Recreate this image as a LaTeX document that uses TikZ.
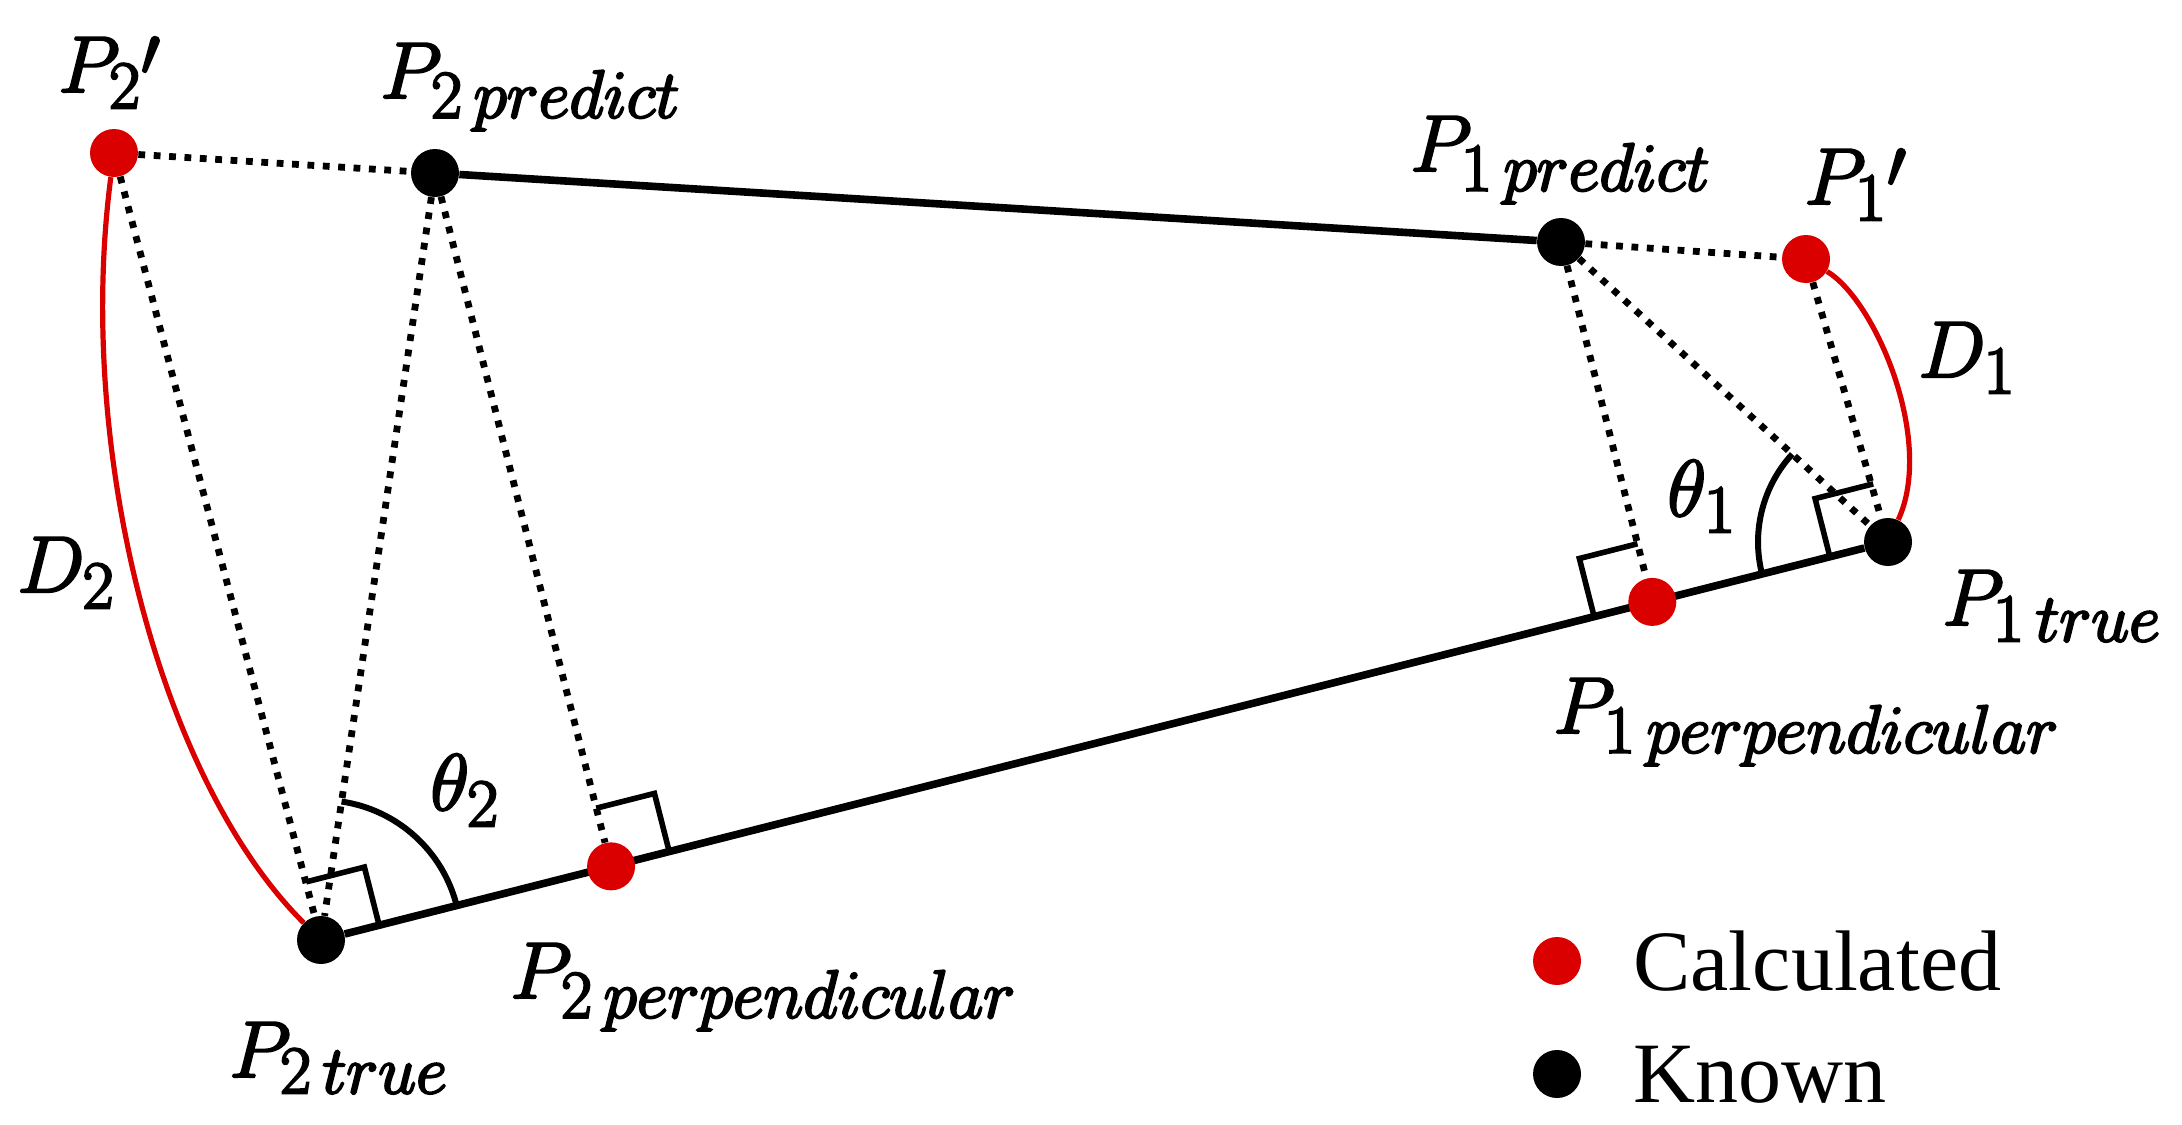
\RequirePackage{fix-cm}
\documentclass[tikz,border=0pt]{standalone}
\usepackage{fontspec}
\newfontfamily\legendfont{Liberation Serif}
\usetikzlibrary{calc,backgrounds}
\DeclareMathSizes{40}{40}{34}{26}
\definecolor{calcred}{RGB}{218,0,0}
\newcommand{\heavytext}[1]{\special{pdf:literal direct 2 Tr 1.1 w}#1\special{pdf:literal direct 0 Tr}}
\newcommand{\lowprime}{^{\raisebox{-6pt}{$\scriptstyle\prime$}}}
\begin{document}
\begin{tikzpicture}[x=0.5pt,y=-0.5pt,
 dot/.style={circle,inner sep=0pt,minimum size=24pt},
 reddot/.style={dot,fill=calcred},
 blackdot/.style={dot,fill=black},
 solidline/.style={line width=3.8pt},
 dotline/.style={line width=3.4pt,dash pattern=on 3.4pt off 4.3pt},
 redcurve/.style={calcred,line width=2.6pt},
 rightmark/.style={line width=2.8pt},
 anglearc/.style={line width=3pt},
 lbl/.style={inner sep=0pt,anchor=base west,font=\fontsize{40}{48}\selectfont},
 legendtxt/.style={inner sep=0pt,anchor=base west,font={\legendfont\fontsize{43}{50}\selectfont}}]

\useasboundingbox (0,0) rectangle (2182,1124);

% points
\node[reddot]   (P2q)  at (114,153) {};
\node[blackdot] (P2pr) at (435,173) {};
\node[blackdot] (P1pr) at (1561,242) {};
\node[reddot]   (P1q)  at (1806,259) {};
\node[blackdot] (P1t)  at (1888,542) {};
\node[blackdot] (P2t)  at (321,940) {};
\node[reddot]   (P1p)  at ($(P2t.center)!(P1pr.center)!(P1t.center)$) {};
\node[reddot]   (P2p)  at ($(P2t.center)!(P2pr.center)!(P1t.center)$) {};

\begin{scope}[on background layer]
\draw[solidline] (P2pr) -- (P1pr);
\draw[solidline] (P2t) -- (P1t);
\draw[dotline] (P2q) -- (P2pr);
\draw[dotline] (P2q) -- (P2t);
\draw[dotline] (P2pr) -- (P2t);
\draw[dotline] (P2pr) -- (P2p);
\draw[dotline] (P1pr) -- (P1q);
\draw[dotline] (P1pr) -- (P1p);
\draw[dotline] (P1pr) -- (P1t);
\draw[dotline] (P1q) -- (P1t);
\draw[redcurve] (P2q) .. controls (75,450) and (160,780) .. (P2t);
\draw[redcurve] (P1q) .. controls (1875,300) and (1935,440) .. (P1t);
% right-angle marks
\draw[rightmark] ($(P2t.center)!30pt!(P1t.center)$) -- ($(P2t.center)!30pt!(P1t.center)!30pt!90:(P1t.center)$) -- ($(P2t.center)!30pt!90:(P1t.center)$);
\draw[rightmark] ($(P2p.center)!30pt!(P1t.center)$) -- ($(P2p.center)!30pt!(P1t.center)!30pt!90:(P1t.center)$) -- ($(P2p.center)!30pt!90:(P1t.center)$);
\draw[rightmark] ($(P1p.center)!30pt!(P2t.center)$) -- ($(P1p.center)!30pt!(P2t.center)!30pt!-90:(P2t.center)$) -- ($(P1p.center)!30pt!-90:(P2t.center)$);
\draw[rightmark] ($(P1t.center)!30pt!(P2t.center)$) -- ($(P1t.center)!30pt!(P2t.center)!30pt!-90:(P2t.center)$) -- ($(P1t.center)!30pt!-90:(P2t.center)$);
% angle arcs
\draw[anglearc] ($(P2t.center)+(14.25:70pt)$) arc[start angle=14.25,end angle=81.56,radius=70pt];
\draw[anglearc] ($(P1t.center)+(137.47:65pt)$) arc[start angle=137.47,end angle=194.25,radius=65pt];
\end{scope}

% labels
\node[lbl] (L2q)  at (58,92)    {\heavytext{${P_2}\lowprime$}};
\node[lbl] (L2pr) at (380,98)   {\heavytext{$P_{2\,predict}$}};
\node[lbl] (L1pr) at (1410,171) {\heavytext{$P_{1\,predict}$}};
\node[lbl] (L1q)  at (1804,204) {\heavytext{${P_1}\lowprime$}};
\node[lbl] (LD1)  at (1918,377) {\heavytext{$D_1$}};
\node[lbl] (Lth1) at (1667,516) {\heavytext{$\theta_1$}};
\node[lbl] (L1t)  at (1942,625) {\heavytext{$P_{1\,true}$}};
\node[lbl] (L1p)  at (1553,733) {\heavytext{$P_{1\,perpendicular}$}};
\node[lbl] (Lth2) at (430,810)  {\heavytext{$\theta_2$}};
\node[lbl] (L2p)  at (510,998)  {\heavytext{$P_{2\,perpendicular}$}};
\node[lbl] (L2t)  at (229,1077) {\heavytext{$P_{2\,true}$}};
\node[lbl] (LD2)  at (17,592)   {\heavytext{$D_2$}};

% legend
\node[reddot]   (legC) at (1557,961) {};
\node[blackdot] (legK) at (1557,1074) {};
\node[legendtxt] (txtC) at (1633,990)  {Calculated};
\node[legendtxt] (txtK) at (1633,1102) {Known};
\end{tikzpicture}
\end{document}
